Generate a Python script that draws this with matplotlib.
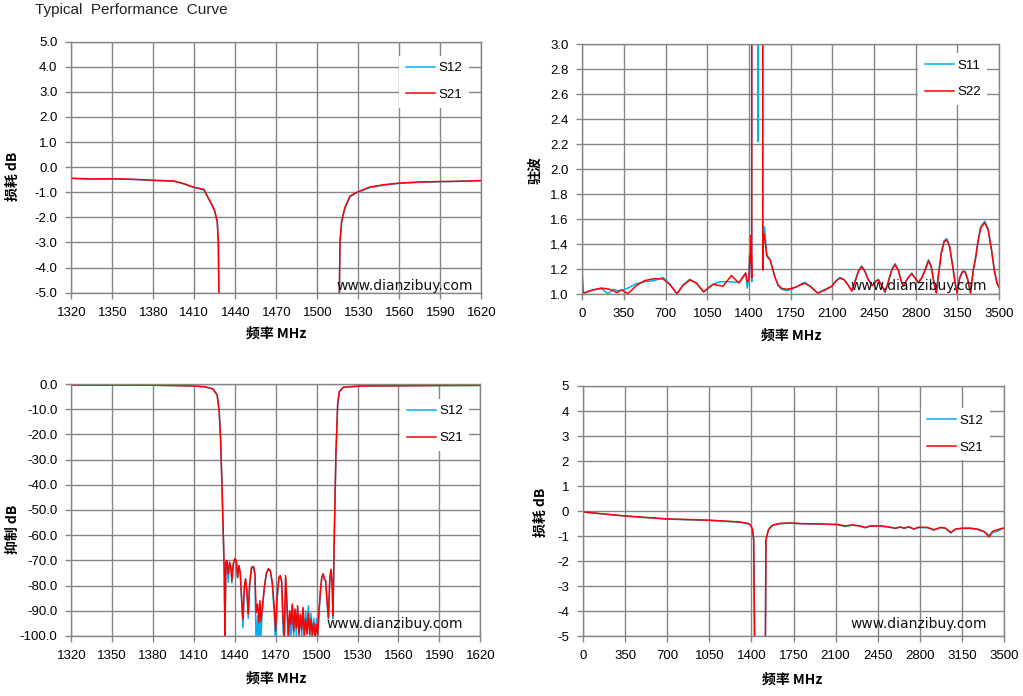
import matplotlib
matplotlib.use("Agg")
import matplotlib.pyplot as plt
from matplotlib.ticker import FormatStrFormatter, MultipleLocator

plt.rcParams['font.family'] = ['Liberation Sans', 'Noto Sans CJK SC', 'DejaVu Sans']
plt.rcParams['axes.unicode_minus'] = False

# ---------------- data ----------------
# Top-left: insertion loss, 1320-1620 MHz
f_tl = [1320, 1335, 1350, 1365, 1380, 1395, 1402, 1409, 1414, 1417,
        1420, 1423, 1425, 1426.8, 1427.6, 1428.5, 1450, 1480, 1510, 1515.5,
        1516.6, 1517.8, 1520.2, 1523.9, 1528.8, 1538.5, 1548.3, 1560.5, 1575, 1590,
        1605, 1620]
s21_tl = [-0.44, -0.47, -0.46, -0.48, -0.52, -0.55, -0.65, -0.79, -0.85, -0.88,
          -1.2, -1.5, -1.75, -2.15, -2.95, -8, -40, -80, -40, -8,
          -2.95, -2.15, -1.6, -1.15, -1.0, -0.79, -0.7, -0.63, -0.59, -0.57,
          -0.56, -0.53]
s12_tl = [-0.45, -0.47, -0.47, -0.49, -0.53, -0.56, -0.66, -0.8, -0.86, -0.9,
          -1.22, -1.52, -1.78, -2.2, -3.0, -8, -40, -80, -40, -8,
          -3.0, -2.2, -1.65, -1.18, -1.02, -0.81, -0.72, -0.64, -0.6, -0.58,
          -0.56, -0.54]

# Top-right: VSWR, 0-3500 MHz
f_s11 = [0, 8, 20, 90, 160, 216, 258, 291, 328, 384,
         454, 524, 608, 678, 734, 795, 846, 902, 958, 1019,
         1098, 1150, 1182, 1252, 1316, 1349, 1372, 1386, 1400, 1406,
         1411, 1417, 1423, 1428, 1475, 1478, 1481, 1512, 1516, 1522,
         1530, 1540, 1549, 1561, 1578, 1594, 1617, 1645, 1673, 1716,
         1758, 1800, 1843, 1871, 1920, 1977, 2039, 2095, 2130, 2165,
         2200, 2235, 2263, 2290, 2320, 2347, 2375, 2400, 2417, 2436,
         2462, 2487, 2515, 2543, 2570, 2600, 2627, 2655, 2680, 2697,
         2735, 2767, 2795, 2823, 2850, 2874, 2908, 2931, 2954, 2974,
         2993, 3016, 3039, 3062, 3085, 3107, 3130, 3147, 3170, 3193,
         3215, 3238, 3261, 3284, 3301, 3324, 3346, 3380, 3409, 3437,
         3460, 3483, 3500]
v_s11 = [1.03, 1.01, 1.01, 1.035, 1.045, 1.005, 1.04, 1.03, 1.03, 1.05,
         1.085, 1.10, 1.11, 1.135, 1.085, 1.005, 1.075, 1.12, 1.09, 1.02,
         1.08, 1.10, 1.10, 1.10, 1.095, 1.13, 1.17, 1.05, 1.12, 1.33,
         1.2, 1.40, 1.10, 25, 25, 2.22, 25, 25, 1.25, 1.42,
         1.54, 1.42, 1.32, 1.30, 1.28, 1.22, 1.14, 1.07, 1.04, 1.03,
         1.04, 1.06, 1.085, 1.095, 1.06, 1.01, 1.04, 1.063, 1.108, 1.135,
         1.118, 1.072, 1.027, 1.10, 1.19, 1.228, 1.185, 1.12, 1.10, 1.07,
         1.105, 1.12, 1.07, 1.015, 1.10, 1.20, 1.245, 1.195, 1.10, 1.065,
         1.13, 1.17, 1.13, 1.09, 1.13, 1.185, 1.277, 1.225, 1.09, 1.01,
         1.17, 1.335, 1.43, 1.445, 1.39, 1.255, 1.10, 1.01, 1.135, 1.185,
         1.185, 1.12, 1.01, 1.20, 1.28, 1.43, 1.54, 1.585, 1.525, 1.36,
         1.20, 1.09, 1.056]
f_s22 = [0, 8, 20, 90, 160, 230, 291, 328, 384, 454,
         524, 608, 678, 734, 795, 846, 902, 958, 1019, 1098,
         1150, 1182, 1252, 1316, 1349, 1372, 1386, 1400, 1406, 1411,
         1417, 1423, 1428, 1470, 1512, 1515.6, 1521, 1527, 1538, 1549,
         1561, 1578, 1594, 1617, 1645, 1673, 1716, 1758, 1800, 1843,
         1871, 1920, 1977, 2039, 2095, 2130, 2165, 2200, 2235, 2263,
         2290, 2320, 2347, 2375, 2400, 2417, 2436, 2462, 2487, 2515,
         2543, 2570, 2600, 2627, 2655, 2680, 2697, 2735, 2767, 2795,
         2823, 2850, 2874, 2908, 2931, 2954, 2974, 2993, 3016, 3039,
         3062, 3085, 3107, 3130, 3147, 3170, 3193, 3215, 3238, 3261,
         3284, 3301, 3324, 3346, 3380, 3409, 3437, 3460, 3483, 3500]
v_s22 = [1.15, 1.01, 1.014, 1.035, 1.05, 1.04, 1.014, 1.035, 1.005, 1.07,
         1.11, 1.125, 1.123, 1.08, 1.005, 1.07, 1.115, 1.09, 1.02, 1.08,
         1.07, 1.065, 1.15, 1.09, 1.14, 1.17, 1.10, 1.12, 1.31, 1.25,
         1.47, 1.13, 25, 25, 25, 1.195, 1.46, 1.48, 1.41, 1.31,
         1.29, 1.275, 1.22, 1.14, 1.075, 1.048, 1.04, 1.048, 1.06, 1.08,
         1.087, 1.06, 1.008, 1.035, 1.063, 1.105, 1.13, 1.115, 1.07, 1.027,
         1.10, 1.185, 1.22, 1.18, 1.12, 1.095, 1.068, 1.10, 1.115, 1.07,
         1.02, 1.10, 1.195, 1.237, 1.19, 1.10, 1.068, 1.13, 1.165, 1.13,
         1.095, 1.13, 1.18, 1.267, 1.22, 1.09, 1.01, 1.17, 1.33, 1.42,
         1.435, 1.38, 1.25, 1.10, 1.01, 1.13, 1.18, 1.18, 1.115, 1.01,
         1.195, 1.275, 1.42, 1.53, 1.573, 1.515, 1.355, 1.195, 1.09, 1.056]

# Bottom-left: rejection, 1320-1620 MHz
f_bl = [1320, 1350, 1380, 1400, 1410, 1418, 1424, 1427, 1428.5, 1429.5,
        1430.5, 1431.5, 1432.2, 1432.7, 1433.4, 1434.1, 1435.1, 1436.1, 1437.1, 1437.8,
        1438.8, 1440, 1441, 1442, 1443, 1443.9, 1444.9, 1445.9, 1446.9, 1447.8,
        1448.8, 1449.8, 1450.8, 1452.2, 1453.7, 1454.7, 1455.6, 1456.7, 1457.6, 1458.4,
        1459.1, 1460.1, 1461.6, 1463, 1464.5, 1466, 1467.4, 1468.9, 1469.9, 1470.9,
        1472.3, 1473.3, 1474.3, 1475.3, 1476.2, 1477.2, 1478.2, 1479.2, 1480.2, 1481.1,
        1482.1, 1483.1, 1484.1, 1485.1, 1486, 1487, 1488, 1489, 1490, 1490.9,
        1491.9, 1492.9, 1493.9, 1494.9, 1495.8, 1496.8, 1497.8, 1498.8, 1499.8, 1500.7,
        1501.7, 1502.7, 1503.7, 1504.7, 1505.6, 1506.6, 1507.6, 1508.6, 1509.6, 1510.5,
        1511.4, 1511.9, 1512.9, 1514.1, 1515.4, 1516.6, 1519.5, 1531.7, 1561, 1590,
        1620]
s21_bl = [-0.4, -0.45, -0.5, -0.66, -0.8, -1.1, -2.0, -4.4, -11, -22,
          -40, -60, -75, -100, -70.7, -70, -75.3, -70.7, -72.7, -78,
          -71.3, -69.3, -70, -76.7, -72, -74.7, -84.7, -93.3, -80.7, -77.3,
          -82, -91.3, -79.3, -72.7, -72.4, -75.3, -90.7, -87.3, -94.7, -86,
          -94, -88.7, -80.7, -75.3, -73.3, -74, -78.7, -88.7, -98, -84.7,
          -76.7, -76, -78, -92.7, -100, -76, -87.3, -100, -90, -95.3,
          -87.3, -98, -89.3, -96.7, -88, -100, -91.3, -97.3, -88.7, -100,
          -93.3, -99.3, -90.7, -99.3, -93.3, -100, -94.7, -100, -95.3, -100,
          -90, -82, -76.7, -75.3, -77.3, -78, -86, -92.7, -77, -73.5,
          -80, -92, -60, -27.5, -7.7, -3, -1.3, -0.8, -0.7, -0.6,
          -0.55]
s12_bl = [-0.4, -0.45, -0.5, -0.66, -0.8, -1.1, -2.0, -4.4, -11, -22,
          -40, -60, -75, -100, -70.7, -70.5, -78.7, -71, -73, -79,
          -71.5, -69.5, -70.5, -77, -72.5, -75, -86, -96.7, -81, -77.5,
          -83, -93, -80, -73, -73, -76, -105, -92, -105, -88,
          -100, -90, -81, -75.5, -73.5, -74.5, -79.5, -92, -105, -86,
          -77, -76.5, -79, -97, -105, -77, -89, -105, -92, -100,
          -88, -100, -90, -100, -89, -99, -92, -100, -89, -100,
          -90, -98, -88, -100, -91, -100, -93, -100, -93, -100,
          -91, -83, -77, -75.5, -77.5, -78.5, -87, -94, -78, -74,
          -81, -93, -61, -28, -8, -3.1, -1.35, -0.82, -0.72, -0.61,
          -0.56]

# Bottom-right: insertion loss, 0-3500 MHz
f_br = [0, 100, 350, 700, 1050, 1300, 1380, 1399, 1410, 1419,
        1427, 1440, 1470, 1505, 1516, 1521, 1541, 1568, 1583, 1639,
        1722, 1833, 1972, 2111, 2181, 2236, 2292, 2348, 2389, 2473,
        2528, 2598, 2640, 2667, 2709, 2750, 2792, 2862, 2917, 2973,
        3015, 3057, 3098, 3154, 3223, 3279, 3335, 3376, 3404, 3446,
        3487, 3500]
s21_br = [-0.03, -0.08, -0.19, -0.31, -0.36, -0.43, -0.5, -0.6, -0.75, -1.15,
          -5.5, -40, -70, -40, -5.5, -1.15, -0.75, -0.59, -0.55, -0.49,
          -0.47, -0.5, -0.51, -0.53, -0.59, -0.55, -0.58, -0.65, -0.59, -0.59,
          -0.62, -0.68, -0.63, -0.68, -0.62, -0.71, -0.64, -0.65, -0.74, -0.65,
          -0.68, -0.85, -0.71, -0.68, -0.68, -0.72, -0.81, -1.03, -0.81, -0.74,
          -0.68, -0.68]
s12_br = [-0.03, -0.08, -0.2, -0.32, -0.37, -0.44, -0.51, -0.61, -0.76, -1.16,
          -5.5, -40, -70, -40, -5.5, -1.16, -0.76, -0.6, -0.56, -0.5,
          -0.48, -0.51, -0.52, -0.54, -0.62, -0.56, -0.59, -0.67, -0.6, -0.6,
          -0.63, -0.69, -0.64, -0.69, -0.64, -0.72, -0.66, -0.66, -0.76, -0.66,
          -0.69, -0.88, -0.72, -0.69, -0.69, -0.73, -0.83, -0.96, -0.86, -0.8,
          -0.7, -0.69]

# ---------------- style ----------------
W, H = 1023, 696
BLUE = '#00B0F0'
RED = '#FF0000'
GRID = '#868686'

fig = plt.figure(figsize=(W / 100, H / 100), dpi=100)


def px_axes(l, t, r, b):
    return fig.add_axes([l / W, 1 - b / H, (r - l) / W, (b - t) / H])


def style(ax, xlim, xstep, ylim, ystep, yfmt):
    ax.set_xlim(*xlim)
    ax.set_ylim(*ylim)
    ax.xaxis.set_major_locator(MultipleLocator(xstep))
    ax.yaxis.set_major_locator(MultipleLocator(ystep))
    ax.yaxis.set_major_formatter(FormatStrFormatter(yfmt))
    ax.grid(True, color=GRID, linewidth=1.0)
    ax.set_axisbelow(True)
    for s in ax.spines.values():
        s.set_color(GRID)
        s.set_linewidth(1.0)
    ax.tick_params(direction='out', length=4, width=1.0, color=GRID,
                   labelsize=9.5, pad=6, labelcolor='black')


def legend(ax, labels, anchor):
    leg = ax.legend(labels, loc='upper left', bbox_to_anchor=anchor,
                    fontsize=9.5, frameon=True, fancybox=False,
                    edgecolor='none', facecolor='white', framealpha=1.0,
                    handlelength=2.2, handletextpad=0.25, labelspacing=1.1,
                    borderpad=0.5, borderaxespad=0)
    leg.set_zorder(5)


def watermark(ax, x, y):
    ax.text(x, y, 'www.dianzibuy.com', transform=ax.transAxes, ha='right',
            va='center', fontsize=10, family='DejaVu Sans', color='#111111',
            zorder=6)


def flabel(x, y, s, rot=0):
    fig.text(x / W, 1 - y / H, s, ha='center', va='center', rotation=rot,
             fontsize=10, fontweight='bold',
             family=['Noto Sans CJK SC', 'DejaVu Sans'])


LW = 1.1

# top-left
ax1 = px_axes(71.3, 41.7, 481.3, 292.7)
ax1.plot(f_tl, s12_tl, color=BLUE, lw=LW)
ax1.plot(f_tl, s21_tl, color=RED, lw=LW)
style(ax1, (1320, 1620), 30, (-5, 5), 1, '%.1f')
legend(ax1, ['S12', 'S21'], (0.80, 0.945))
watermark(ax1, 0.98, 0.027)

# top-right
ax2 = px_axes(582.3, 44.3, 999, 294.3)
ax2.plot(f_s11, v_s11, color=BLUE, lw=LW)
ax2.plot(f_s22, v_s22, color=RED, lw=LW)
style(ax2, (0, 3500), 350, (1.0, 3.0), 0.2, '%.1f')
legend(ax2, ['S11', 'S22'], (0.806, 0.966))
watermark(ax2, 0.9705, 0.033)

# bottom-left
ax3 = px_axes(71.3, 384, 480.3, 636)
ax3.plot(f_bl, s12_bl, color=BLUE, lw=LW)
ax3.plot(f_bl, s21_bl, color=RED, lw=LW)
style(ax3, (1320, 1620), 30, (-100, 0), 10, '%.1f')
legend(ax3, ['S12', 'S21'], (0.804, 0.942))
watermark(ax3, 0.958, 0.048)

# bottom-right
ax4 = px_axes(583, 386, 1004, 636.3)
ax4.plot(f_br, s12_br, color=BLUE, lw=LW)
ax4.plot(f_br, s21_br, color=RED, lw=LW)
style(ax4, (0, 3500), 350, (-5, 5), 1, '%d')
legend(ax4, ['S12', 'S21'], (0.802, 0.912))
watermark(ax4, 0.959, 0.049)

# axis labels
flabel(276, 334, '频率 MHz')
flabel(791, 336, '频率 MHz')
flabel(276, 679, '频率 MHz')
flabel(792, 680, '频率 MHz')
flabel(13, 176, '损耗 dB', 90)
flabel(535, 170, '驻波', 90)
flabel(13, 529, '抑制 dB', 90)
flabel(541, 512, '损耗 dB', 90)

fig.text(35 / W, 1 - 10 / H, 'Typical  Performance  Curve', ha='left',
         va='center', fontsize=11, color='#222222')

fig.savefig('out.png', dpi=100, facecolor='white')
